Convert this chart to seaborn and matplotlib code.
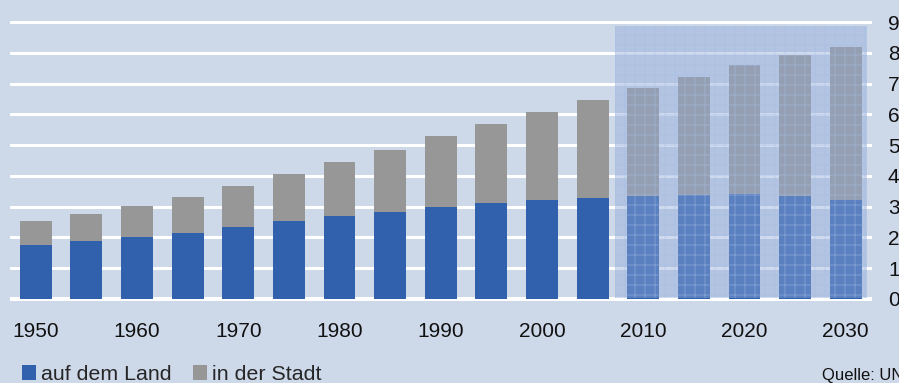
import matplotlib
matplotlib.use("Agg")
import matplotlib.pyplot as plt
from matplotlib.patches import Rectangle, Patch
import seaborn as sns
import pandas as pd

# ---- data (billions of people) ----
years = [1950, 1955, 1960, 1965, 1970, 1975, 1980, 1985, 1990, 1995,
         2000, 2005, 2010, 2015, 2020, 2025, 2030]
rural = [1.75, 1.88, 2.01, 2.14, 2.34, 2.53, 2.70, 2.83, 2.99, 3.12,
         3.21, 3.28, 3.34, 3.38, 3.42, 3.34, 3.22]
total = [2.53, 2.76, 3.02, 3.31, 3.67, 4.06, 4.45, 4.84, 5.29, 5.68,
         6.07, 6.46, 6.85, 7.21, 7.60, 7.92, 8.18]
series_labels = ["auf dem Land", "in der Stadt"]
y_ticks = [0, 1, 2, 3, 4, 5, 6, 7, 8, 9]
x_tick_labels = ["1950", "1960", "1970", "1980", "1990", "2000", "2010", "2020", "2030"]
projection_start = 2010
source = "Quelle: UN"

BG = "#cdd8e9"
BLUE = "#3160ad"
GRAY = "#979797"

DPI = 120
sns.set_theme(style="white")
plt.rcParams["font.family"] = ["Liberation Sans", "DejaVu Sans"]
plt.rcParams["hatch.linewidth"] = 0.6

fig = plt.figure(figsize=(899 / DPI, 383 / DPI), dpi=DPI, facecolor=BG)
ax = fig.add_axes([10 / 899, 82 / 383, 862 / 899, 281 / 383])
ax.set_facecolor(BG)

df = pd.DataFrame({"year": [str(y) for y in years], "rural": rural, "total": total})
order = df["year"].tolist()

sns.barplot(data=df, x="year", y="total", order=order, color=GRAY, saturation=1,
            width=0.63, ax=ax, zorder=3, errorbar=None, linewidth=0, edgecolor="none")
sns.barplot(data=df, x="year", y="rural", order=order, color=BLUE, saturation=1,
            width=0.63, ax=ax, zorder=4, errorbar=None, linewidth=0, edgecolor="none")

ax.set_xlim(-0.51, 16.52)
ax.set_ylim(-0.065, 9.065)

# gridlines
for t in y_ticks:
    ax.axhline(t, color="white", lw=2.4 if t == 0 else 1.8, zorder=1)

# projection overlay
i0 = years.index(projection_start)
x0 = i0 - 0.56
x1 = len(years) - 1 + 0.42
ax.add_patch(Rectangle((x0, 0.03), x1 - x0, 8.84, facecolor="#91abda", alpha=0.43,
                       edgecolor="none", lw=0, zorder=6))
ax.add_patch(Rectangle((x0, 0.03), x1 - x0, 8.84, facecolor="none", edgecolor="#a9bfe6",
                       hatch="++", lw=0, alpha=0.45, zorder=7))

# ticks
ax.set_xticks([years.index(int(l)) for l in x_tick_labels])
ax.set_xticklabels(x_tick_labels, fontsize=12.5, color="#111111")
ax.yaxis.tick_right()
ax.set_yticks(y_ticks)
ax.set_yticklabels([str(t) for t in y_ticks], fontsize=12.5, color="#111111", ha="left")
ax.tick_params(axis="x", length=0, pad=12.5)
ax.tick_params(axis="y", length=0, pad=9.6)
ax.set_xlabel("")
ax.set_ylabel("")
for s in ax.spines.values():
    s.set_visible(False)

handles = [Patch(facecolor=BLUE, edgecolor="none", linewidth=0, label=series_labels[0]),
           Patch(facecolor=GRAY, edgecolor="none", linewidth=0, label=series_labels[1])]
fig.legend(handles=handles, loc="lower left", bbox_to_anchor=(22 / 899, -1 / 383),
           ncol=2, frameon=False, borderpad=0, borderaxespad=0, fontsize=12.8,
           handlelength=0.65, handleheight=0.65, handletextpad=0.25, columnspacing=1.0)

fig.text(822 / 899, 3 / 383, source, fontsize=10, ha="left", va="baseline", color="#111111")

fig.savefig("out.png", dpi=DPI, facecolor=BG)
